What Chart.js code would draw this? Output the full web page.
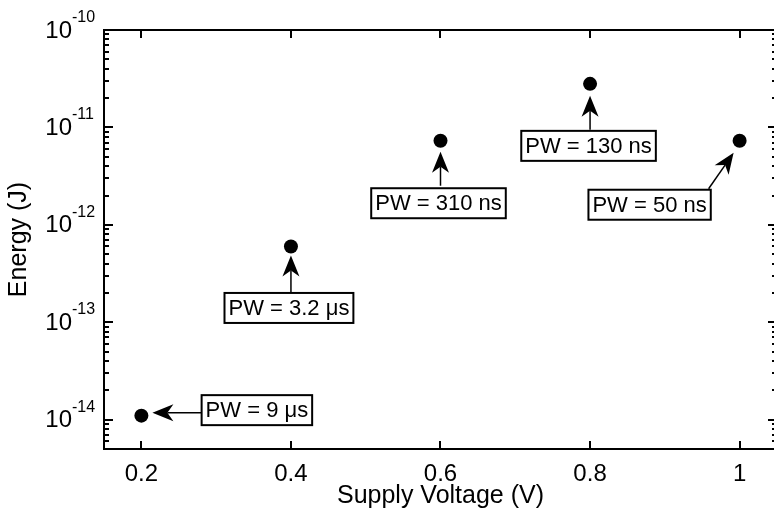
<!DOCTYPE html>
<html>
<head>
<meta charset="utf-8">
<script src="https://cdn.jsdelivr.net/npm/chart.js@4/dist/chart.umd.min.js"></script>
<style>
  html, body { margin: 0; padding: 0; background: #fff; overflow: hidden; width: 774px; height: 518px; }
  #wrap { width: 800px; height: 518px; }
</style>
</head>
<body>
<div id="wrap"><canvas id="c" width="800" height="518"></canvas></div>
<script>
// Energy per operation against supply voltage, annotated with pulse width
const supplyVoltage = [0.2, 0.4, 0.6, 0.8, 1.0];
const energyJ = [1.1e-14, 6.0e-13, 7.3e-12, 2.8e-11, 7.3e-12];
const pulseWidthLabels = ['PW = 9 \u03bcs', 'PW = 3.2 \u03bcs', 'PW = 310 ns', 'PW = 130 ns', 'PW = 50 ns'];
const xTickValues = [0.2, 0.4, 0.6, 0.8, 1];
const yDecadeExponents = [-14, -13, -12, -11, -10];

const FONT = "'Liberation Sans', Arial, Helvetica, sans-serif";

// Callout geometry, in pixels relative to the marker it points at
const calloutLayout = [
  { box: [115.5, -5.5], tail: [60, -3],  tip: [11, -3] },
  { box: [-2, 61.5],    tail: [0, 47],   tip: [0, 9] },
  { box: [-2, 62.5],    tail: [0, 45],   tip: [0, 11] },
  { box: [-1.5, 62],    tail: [0, 46],   tip: [0, 12] },
  { box: [-90, 64],     tail: [-31, 48], tip: [-6, 12] }
];

function drawArrow(ctx, x0, y0, x1, y1) {
  const ang = Math.atan2(y1 - y0, x1 - x0);
  const L = 21, W = 8.5, N = 6;
  const ux = Math.cos(ang), uy = Math.sin(ang), px = -uy, py = ux;
  const nx = x1 - ux * (L - N), ny = y1 - uy * (L - N);
  ctx.beginPath();
  ctx.moveTo(x0, y0);
  ctx.lineTo(nx, ny);
  ctx.stroke();
  ctx.beginPath();
  ctx.moveTo(x1, y1);
  ctx.lineTo(x1 - ux * L + px * W, y1 - uy * L + py * W);
  ctx.lineTo(nx, ny);
  ctx.lineTo(x1 - ux * L - px * W, y1 - uy * L - py * W);
  ctx.closePath();
  ctx.fill();
}

// Axes box with inward ticks, 10^n labels and the callouts
const axesFrame = {
  id: 'axesFrame',
  afterDraw(chart) {
    const { ctx, chartArea: a } = chart;
    const x = chart.scales.x, y = chart.scales.y;
    ctx.save();
    ctx.strokeStyle = '#000';
    ctx.fillStyle = '#000';

    const left = Math.round(a.left), right = Math.round(a.right);
    const top = Math.round(a.top), bottom = Math.round(a.bottom);

    // frame
    ctx.lineWidth = 2;
    ctx.strokeRect(left, top, right - left, bottom - top);

    // x ticks, top and bottom
    for (const v of xTickValues) {
      const px = Math.round(x.getPixelForValue(v));
      ctx.fillRect(px - 1, bottom - 8, 2, 8);
      ctx.fillRect(px - 1, top, 2, 8);
    }

    // y ticks (major decades and minor 2..9), left and right
    const lo = Math.floor(Math.log10(y.min)), hi = Math.ceil(Math.log10(y.max));
    for (let e = lo; e <= hi; e++) {
      for (let m = 1; m <= 9; m++) {
        const v = m * Math.pow(10, e);
        if (v < y.min * 0.999 || v > y.max * 1.001) continue;
        const py = Math.round(y.getPixelForValue(v));
        const len = m === 1 ? 9 : 5;
        ctx.fillRect(left, py - 1, len, 2);
        ctx.fillRect(right - len, py - 1, len, 2);
      }
    }

    // decade labels
    yDecadeExponents.forEach(e => {
      const py = y.getPixelForValue(Math.pow(10, e));
      ctx.font = '24px ' + FONT;
      ctx.textAlign = 'right';
      ctx.textBaseline = 'middle';
      ctx.fillText('10', 72, py + 1);
      ctx.font = '16px ' + FONT;
      ctx.textAlign = 'left';
      ctx.textBaseline = 'alphabetic';
      ctx.fillText(String(e), 72, py - 8);
    });

    // pulse-width callouts
    ctx.font = '22px ' + FONT;
    supplyVoltage.forEach((v, i) => {
      const L = calloutLayout[i];
      const ox = x.getPixelForValue(v);
      const oy = y.getPixelForValue(energyJ[i]);
      ctx.lineWidth = 1.5;
      ctx.strokeStyle = '#000';
      ctx.fillStyle = '#000';
      drawArrow(ctx, ox + L.tail[0], oy + L.tail[1], ox + L.tip[0], oy + L.tip[1]);
      const text = pulseWidthLabels[i];
      const w = ctx.measureText(text).width + 8;
      const h = 30;
      const cx = ox + L.box[0], cy = oy + L.box[1];
      ctx.fillStyle = '#fff';
      ctx.fillRect(cx - w / 2, cy - h / 2, w, h);
      ctx.lineWidth = 2;
      ctx.strokeRect(cx - w / 2, cy - h / 2, w, h);
      ctx.fillStyle = '#000';
      ctx.textAlign = 'center';
      ctx.textBaseline = 'middle';
      ctx.fillText(text, cx, cy + 1);
    });
    ctx.restore();
  }
};

new Chart(document.getElementById('c'), {
  type: 'scatter',
  data: {
    datasets: [{
      data: supplyVoltage.map((v, i) => ({ x: v, y: energyJ[i] })),
      pointRadius: 7,
      pointBackgroundColor: '#000',
      pointBorderColor: '#000',
      pointBorderWidth: 0,
      showLine: false
    }]
  },
  options: {
    responsive: false,
    animation: false,
    devicePixelRatio: 1,
    layout: { padding: { left: 0, top: 30, right: 23, bottom: 0 } },
    plugins: { legend: { display: false }, tooltip: { enabled: false } },
    scales: {
      x: {
        type: 'linear',
        min: 0.15,
        max: 1.05,
        afterBuildTicks: s => { s.ticks = xTickValues.map(v => ({ value: v })); },
        afterFit: s => { s.height = 69; },
        grid: { display: false },
        border: { display: false },
        ticks: { font: { family: FONT, size: 24 }, color: '#000', padding: 3, maxRotation: 0, callback: v => String(v) },
        title: { display: true, text: 'Supply Voltage (V)', font: { family: FONT, size: 25 }, color: '#000', padding: { top: 0, bottom: 7 } }
      },
      y: {
        type: 'logarithmic',
        min: 5e-15,
        max: 1e-10,
        afterFit: s => { s.width = 104; },
        grid: { display: false },
        border: { display: false },
        ticks: { display: false },
        title: { display: true, text: 'Energy (J)', font: { family: FONT, size: 25 }, color: '#000', padding: { top: 4, bottom: 0 } }
      }
    }
  },
  plugins: [axesFrame]
});
</script>
</body>
</html>
